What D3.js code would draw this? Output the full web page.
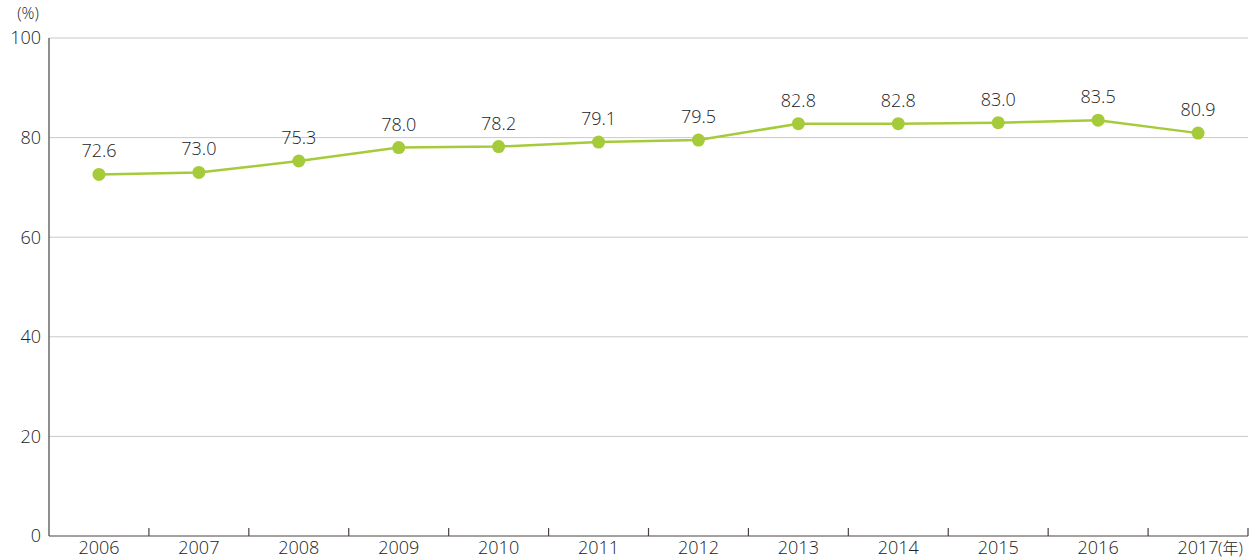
<!DOCTYPE html>
<meta charset="utf-8">
<style>
  body { margin: 0; background: #fff; }
  text { font-family: "Open Sans", "Noto Sans", "Noto Sans CJK JP", sans-serif; font-weight: 300; fill: #222; }
</style>
<svg width="1249" height="559" class="chart"></svg>
<script src="https://cdn.jsdelivr.net/npm/d3@7/dist/d3.min.js"></script>
<script>

var years = ["2006", "2007", "2008", "2009", "2010", "2011", "2012", "2013", "2014", "2015", "2016", "2017"];
var values = [72.6, 73.0, 75.3, 78.0, 78.2, 79.1, 79.5, 82.8, 82.8, 83.0, 83.5, 80.9];
var yTicks = [0, 20, 40, 60, 80, 100];

var svg = d3.select("svg.chart"),
    margin = {top: 38, right: 1, bottom: 23, left: 49},
    width = +svg.attr("width") - margin.left - margin.right,
    height = +svg.attr("height") - margin.top - margin.bottom;

var x = d3.scaleBand().domain(years).range([0, width]);
var y = d3.scaleLinear().domain([0, 100]).range([height, 0]);

var g = svg.append("g")
    .attr("transform", "translate(" + margin.left + "," + margin.top + ")");

// gridlines
g.selectAll("line.grid")
    .data(yTicks.filter(function(d){ return d > 0; }))
    .enter().append("line")
    .attr("class", "grid")
    .attr("x1", 0).attr("x2", width)
    .attr("y1", function(d){ return y(d); })
    .attr("y2", function(d){ return y(d); })
    .attr("stroke", "#c9c9c9")
    .attr("stroke-width", 1);

// y labels
g.selectAll("text.ylab")
    .data(yTicks)
    .enter().append("text")
    .attr("class", "ylab")
    .attr("x", -8)
    .attr("y", function(d){ return y(d); })
    .attr("dy", "0.36em")
    .attr("text-anchor", "end")
    .style("font-size", "18px")
    .text(function(d){ return d; });

svg.append("text")
    .attr("x", 28).attr("y", 19)
    .attr("text-anchor", "middle")
    .style("font-size", "16px")
    .text("(%)");

// axes lines
g.append("line")
    .attr("x1", 0).attr("x2", 0).attr("y1", 0).attr("y2", height)
    .attr("stroke", "#4a4242").attr("stroke-width", 1.2);
g.append("line")
    .attr("x1", 0).attr("x2", width).attr("y1", height).attr("y2", height)
    .attr("stroke", "#4a4242").attr("stroke-width", 1.2);

// x ticks at category boundaries
g.selectAll("line.xtick")
    .data(years)
    .enter().append("line")
    .attr("class", "xtick")
    .attr("x1", function(d){ return x(d) + x.bandwidth(); })
    .attr("x2", function(d){ return x(d) + x.bandwidth(); })
    .attr("y1", height - 8).attr("y2", height)
    .attr("stroke", "#4a4242").attr("stroke-width", 1.2);

// x labels
g.selectAll("text.xlab")
    .data(years)
    .enter().append("text")
    .attr("class", "xlab")
    .attr("x", function(d){ return x(d) + x.bandwidth() / 2; })
    .attr("y", height + 18)
    .attr("text-anchor", "middle")
    .style("font-size", "18px")
    .text(function(d){ return d; });

g.append("text")
    .attr("x", x("2017") + x.bandwidth() / 2 + 20)
    .attr("y", height + 18)
    .style("font-size", "16px")
    .text("(年)");

var cx = function(d, i){ return x(years[i]) + x.bandwidth() / 2; };

var line = d3.line()
    .x(cx)
    .y(function(d){ return y(d); });

g.append("path")
    .datum(values)
    .attr("fill", "none")
    .attr("stroke", "#a6cb3a")
    .attr("stroke-width", 2.5)
    .attr("d", line);

g.selectAll("circle.pt")
    .data(values)
    .enter().append("circle")
    .attr("class", "pt")
    .attr("cx", cx)
    .attr("cy", function(d){ return y(d); })
    .attr("r", 6.5)
    .attr("fill", "#a6cb3a");

g.selectAll("text.val")
    .data(values)
    .enter().append("text")
    .attr("class", "val")
    .attr("x", cx)
    .attr("y", function(d){ return y(d) - 17; })
    .attr("text-anchor", "middle")
    .style("font-size", "18px")
    .text(function(d){ return d.toFixed(1); });

</script>
